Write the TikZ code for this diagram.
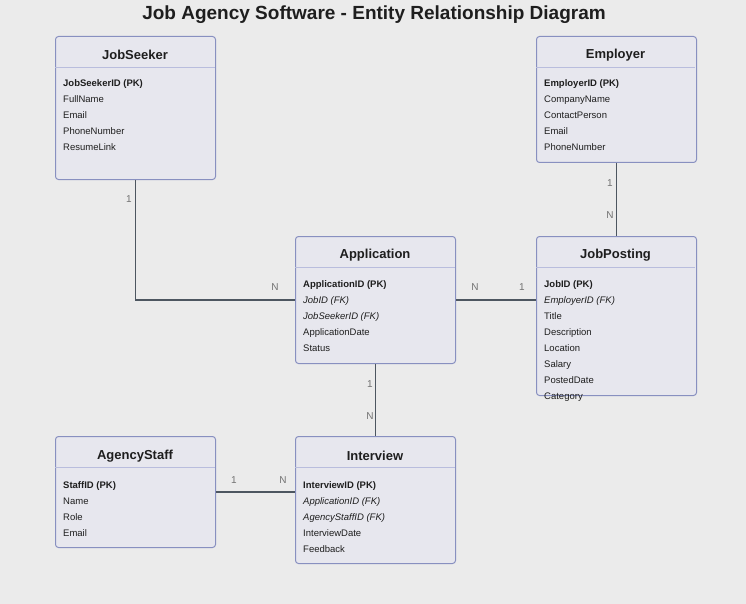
\documentclass[tikz,border=0pt]{standalone}
\usepackage{fontspec}
\setmainfont{Liberation Sans}
\definecolor{fondo}{HTML}{EBEBEB}
\definecolor{cajafondo}{HTML}{E7E7EE}
\definecolor{cajaborde}{HTML}{8890C0}
\definecolor{separador}{HTML}{B9BDDD}
\definecolor{linea}{HTML}{4D5660}
\definecolor{cardcol}{HTML}{727272}
\definecolor{texto}{HTML}{1E1E1E}
\tikzset{
  entidad/.style={draw=cajaborde, fill=cajafondo, rounded corners=3pt, line width=1pt,
    minimum width=160pt, inner sep=0pt, anchor=north west},
  cabecera/.style={font=\bfseries\fontsize{13}{15}\selectfont, text=texto},
  atributo/.style={font=\fontsize{9.5}{11}\selectfont, text=texto, anchor=base west, inner sep=0pt},
  separa/.style={draw=separador, line width=0.8pt},
  relacion/.style={draw=linea, line width=1.5pt},
  card/.style={font=\fontsize{10}{12}\selectfont, text=cardcol, inner sep=0pt},
}
\begin{document}
\begin{tikzpicture}[x=1pt, y=-1pt]
    % Fondo
    \fill[fondo] (0,0) rectangle (746,604);
    \useasboundingbox (0,0) rectangle (746,604);
    \node[font=\bfseries\fontsize{19}{22}\selectfont, text=texto] (titulo) at (374,14.5)
        {Job Agency Software - Entity Relationship Diagram};

    % Entidades
    \node[entidad, minimum height=143pt] (seeker) at (55,36) {};
    \node[entidad, minimum height=126pt] (employer) at (536,36) {};
    \node[entidad, minimum height=127pt] (app) at (295,236) {};
    \node[entidad, minimum height=159pt] (post) at (536,236) {};
    \node[entidad, minimum height=111pt] (staff) at (55,436) {};
    \node[entidad, minimum height=127pt] (interview) at (295,436) {};

    % Cabeceras
    \node[cabecera] (seekerT) at (135,55) {JobSeeker};
    \draw[separa] (55,67) -- (215,67);
    \node[cabecera] (employerT) at (615.5,55) {Employer};
    \draw[separa] (536,67) -- (695,67);
    \node[cabecera] (appT) at (375,255) {Application};
    \draw[separa] (295,267) -- (455,267);
    \node[cabecera] (postT) at (615.5,255) {JobPosting};
    \draw[separa] (536,267) -- (695,267);
    \node[cabecera] (staffT) at (135,456) {AgencyStaff};
    \draw[separa] (55,467) -- (215,467);
    \node[cabecera] (interviewT) at (375,456) {Interview};
    \draw[separa] (295,467) -- (455,467);

    % Atributos
    \foreach \t [count=\i] in {\textbf{JobSeekerID (PK)}, FullName, Email, PhoneNumber, ResumeLink}
        \node[atributo] (seekerA\i) at (63,87+16*\i-16) {\t};
    \foreach \t [count=\i] in {\textbf{EmployerID (PK)}, CompanyName, ContactPerson, Email, PhoneNumber}
        \node[atributo] (employerA\i) at (544,87+16*\i-16) {\t};
    \foreach \t [count=\i] in {\textbf{ApplicationID (PK)}, \textit{JobID (FK)}, \textit{JobSeekerID (FK)}, ApplicationDate, Status}
        \node[atributo] (appA\i) at (303,287+16*\i-16) {\t};
    \foreach \t [count=\i] in {\textbf{JobID (PK)}, \textit{EmployerID (FK)}, Title, Description, Location, Salary, PostedDate, Category}
        \node[atributo] (postA\i) at (544,287+16*\i-16) {\t};
    \foreach \t [count=\i] in {\textbf{StaffID (PK)}, Name, Role, Email}
        \node[atributo] (staffA\i) at (63,488+16*\i-16) {\t};
    \foreach \t [count=\i] in {\textbf{InterviewID (PK)}, \textit{ApplicationID (FK)}, \textit{AgencyStaffID (FK)}, InterviewDate, Feedback}
        \node[atributo] (interviewA\i) at (303,488+16*\i-16) {\t};

    % Relaciones
    \draw[relacion] (seeker.south) |- (app.west);
    \draw[relacion] (app.east) -- (app.east -| post.west);
    \draw[relacion] (employer.south) -- (post.north);
    \draw[relacion] (app.south) -- (interview.north);
    \draw[relacion] (staff.east) -- (staff.east -| interview.west);

    % Cardinalidades
    \node[card] (c1) at (129,199) {1};
    \node[card] (c2) at (275,287) {N};
    \node[card] (c3) at (475,287) {N};
    \node[card] (c4) at (522,287) {1};
    \node[card] (c5) at (610,183) {1};
    \node[card] (c6) at (610,215) {N};
    \node[card] (c7) at (370,384) {1};
    \node[card] (c8) at (370,416) {N};
    \node[card] (c9) at (234,480) {1};
    \node[card] (c10) at (283,480) {N};
\end{tikzpicture}
\end{document}
